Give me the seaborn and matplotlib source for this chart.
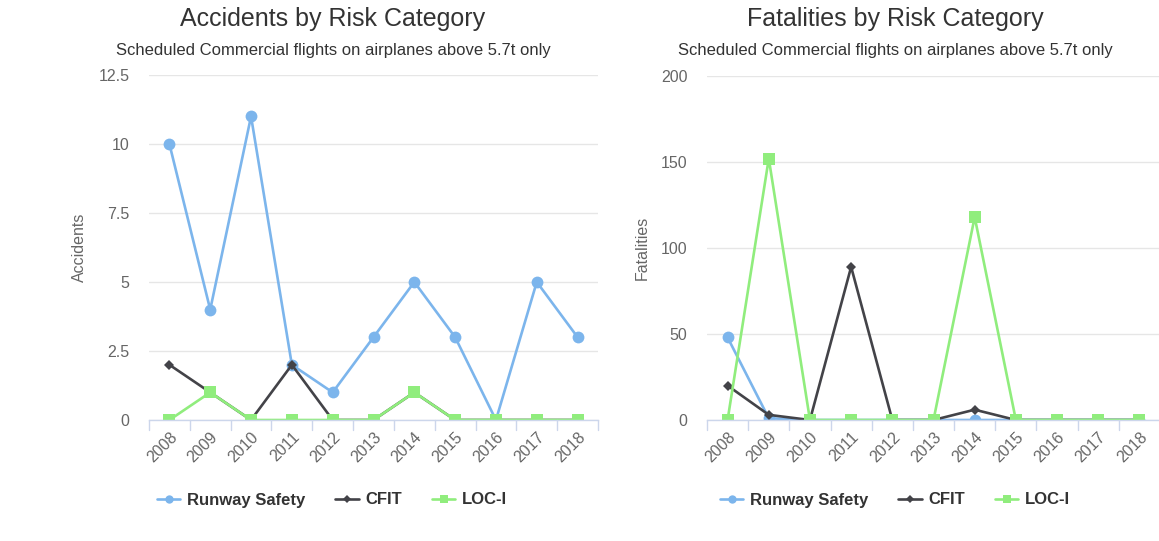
import matplotlib.pyplot as plt
import seaborn as sns
import pandas as pd

# Data
years = ['2008', '2009', '2010', '2011', '2012', '2013', '2014', '2015', '2016', '2017', '2018']
series = ['Runway Safety', 'CFIT', 'LOC-I']

acc_runway = [10, 4, 11, 2, 1, 3, 5, 3, 0, 5, 3]
acc_cfit = [2, 1, 0, 2, 0, 0, 1, 0, 0, 0, 0]
acc_loci = [0, 1, 0, 0, 0, 0, 1, 0, 0, 0, 0]

fat_runway = [48, 1, 0, 0, 0, 0, 0, 0, 0, 0, 0]
fat_cfit = [20, 3, 0, 89, 0, 0, 6, 0, 0, 0, 0]
fat_loci = [0, 152, 0, 0, 0, 0, 118, 0, 0, 0, 0]

acc_ticks = [0, 2.5, 5, 7.5, 10, 12.5]
acc_ticklabels = ['0', '2.5', '5', '7.5', '10', '12.5']
fat_ticks = [0, 50, 100, 150, 200]

colors = {'Runway Safety': '#7cb5ec', 'CFIT': '#434348', 'LOC-I': '#90ed7d'}
markers = {'Runway Safety': 'o', 'CFIT': 'D', 'LOC-I': 's'}
sizes = {'Runway Safety': 8.5, 'CFIT': 5.5, 'LOC-I': 8}
legend_sizes = {'Runway Safety': 6, 'CFIT': 4.5, 'LOC-I': 6}


def long_form(values):
    rows = []
    for name, vals in zip(series, values):
        for i, v in enumerate(vals):
            rows.append({'pos': i, 'year': years[i], 'series': name, 'value': v})
    return pd.DataFrame(rows)


acc_df = long_form([acc_runway, acc_cfit, acc_loci])
fat_df = long_form([fat_runway, fat_cfit, fat_loci])

sns.set_style('white')
plt.rcParams['font.family'] = ['Liberation Sans', 'DejaVu Sans']

fig = plt.figure(figsize=(11.59, 5.41), dpi=100)
ax1 = fig.add_axes([149 / 1159, 121 / 541, 449 / 1159, 345 / 541])
ax2 = fig.add_axes([707 / 1159, 121 / 541, 453 / 1159, 344 / 541])


def draw(ax, df, ylabel, ticks, ticklabels, ymax):
    for name in series:
        sub = df[df['series'] == name]
        sns.lineplot(data=sub, x='pos', y='value', ax=ax, color=colors[name],
                     marker=markers[name], markersize=sizes[name],
                     markeredgewidth=0, linewidth=1.9, label=name, legend=False)
    ax.set_xlim(-0.5, len(years) - 0.5)
    ax.set_ylim(0, ymax)
    ax.set_yticks(ticks)
    ax.set_yticklabels(ticklabels)
    ax.set_xticks(range(len(years)))
    ax.set_xticklabels(years, rotation=45, ha='right', va='top',
                       rotation_mode='anchor')
    ax.grid(axis='y', color='#e6e6e6', linewidth=1)
    ax.set_axisbelow(True)
    for s in ['top', 'right', 'left']:
        ax.spines[s].set_visible(False)
    ax.spines['bottom'].set_color('#ccd6eb')
    ax.spines['bottom'].set_linewidth(1)
    ax.tick_params(axis='y', length=0, labelsize=11.5, labelcolor='#666666', pad=14)
    ax.tick_params(axis='x', length=0, labelsize=11.5, labelcolor='#666666', pad=7)
    # category boundary tick marks
    for b in range(len(years) + 1):
        ax.plot([b - 0.5, b - 0.5], [0, -0.03], transform=ax.get_xaxis_transform(),
                color='#ccd6eb', linewidth=1, clip_on=False)
    ax.set_xlabel('')
    ax.set_ylabel(ylabel, color='#666666', fontsize=11.5, labelpad=8)


draw(ax1, acc_df, 'Accidents', acc_ticks, acc_ticklabels, 12.5)
draw(ax2, fat_df, 'Fatalities', fat_ticks, [str(t) for t in fat_ticks], 200)

fig.text(333 / 1159, 1 - 19 / 541, 'Accidents by Risk Category', ha='center', va='center',
         fontsize=18, color='#333333')
fig.text(895 / 1159, 1 - 19 / 541, 'Fatalities by Risk Category', ha='center', va='center',
         fontsize=18, color='#333333')
fig.text(333 / 1159, 1 - 50 / 541, 'Scheduled Commercial flights on airplanes above 5.7t only',
         ha='center', va='center', fontsize=12, color='#333333')
fig.text(895 / 1159, 1 - 50 / 541, 'Scheduled Commercial flights on airplanes above 5.7t only',
         ha='center', va='center', fontsize=12, color='#333333')

for ax, cx in [(ax1, 332), (ax2, 895)]:
    handles, labels = ax.get_legend_handles_labels()
    leg = fig.legend(handles, labels, loc='center', bbox_to_anchor=(cx / 1159, 1 - 500 / 541),
                     ncol=3, frameon=False, prop={'weight': 'bold', 'size': 12},
                     labelcolor='#333333', handlelength=1.4, columnspacing=1.8,
                     handletextpad=0.4)
    for h, name in zip(leg.legend_handles, labels):
        h.set_markersize(legend_sizes[name])

fig.savefig('out.png', dpi=100)
plt.close(fig)
